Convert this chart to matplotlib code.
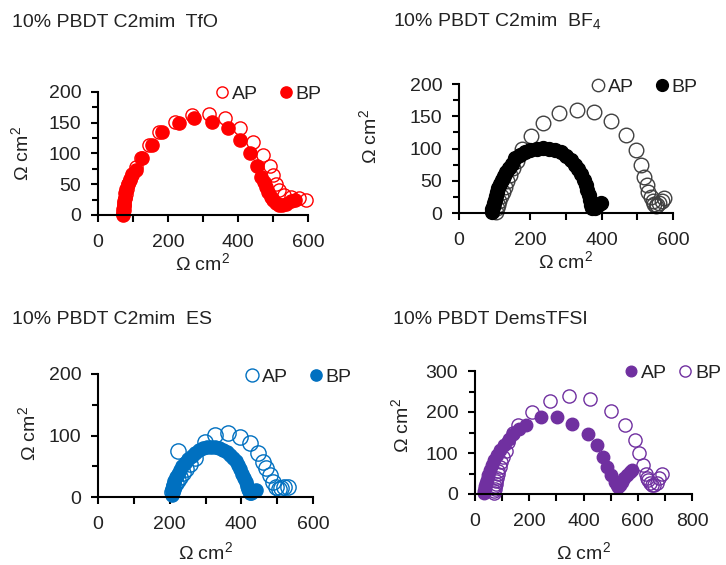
import matplotlib
matplotlib.use('Agg')
import matplotlib.pyplot as plt
from matplotlib.ticker import MultipleLocator

plt.rcParams['font.family'] = ['Liberation Sans', 'DejaVu Sans']
plt.rcParams['mathtext.fontset'] = 'custom'
plt.rcParams['mathtext.rm'] = 'Liberation Sans'

W, H = 726, 565

# ---- data (Z' vs Z'', ohm cm2) ----
tfo_ap_x = [72, 73, 74, 75, 77, 79, 82, 86, 91, 98, 108, 122, 145, 173, 219, 268, 318, 362, 405, 442,
            471, 490, 499, 509, 518, 532, 551, 575, 594]
tfo_ap_y = [2, 8, 14, 20, 27, 34, 42, 50, 58, 67, 78, 92, 114, 135, 152, 163, 165, 157, 141, 119,
            98, 79, 65, 51, 41, 33, 30, 27, 24]
tfo_bp_x = [70, 71, 72, 73, 74, 76, 78, 81, 85, 90, 97, 108, 126, 155, 183, 230, 275, 325, 372, 405,
            433, 454, 466, 473, 480, 487, 494, 501, 509, 518, 527, 538, 551, 562]
tfo_bp_y = [0, 5, 10, 16, 22, 28, 35, 42, 50, 57, 65, 73, 92, 114, 135, 149, 157, 152, 141, 122,
            100, 79, 62, 54, 46, 38, 30, 24, 19, 16, 16, 18, 22, 25]

bf4_ap_x = [105, 107, 110, 113, 117, 122, 128, 135, 143, 152, 163, 177, 203, 235, 280, 331, 378, 425,
            468, 496, 510, 519, 526, 531, 538, 544, 548, 552, 556, 562, 568, 575]
bf4_ap_y = [2, 7, 13, 19, 26, 33, 41, 50, 59, 69, 80, 100, 119, 139, 155, 160, 157, 142,
            121, 98, 74, 56, 43, 33, 25, 19, 14, 11, 12, 15, 19, 23]
bf4_bp_x = [92, 93, 95, 97, 100, 103, 106, 110, 115, 120, 126, 132, 139, 148, 158, 170, 186, 200, 219,
            236, 252, 268, 285, 300, 313, 324, 334, 343, 350, 356, 360, 364, 367, 371, 374, 380, 390, 397]
bf4_bp_y = [2, 6, 10, 15, 20, 26, 33, 39, 45, 51, 57, 63, 69, 76, 85, 90, 95, 98, 100,
            101, 100, 98, 95, 89, 82, 75, 68, 60, 51, 44, 36, 28, 20, 12, 7, 8, 12, 15]

es_ap_x = [224, 207, 210, 213, 217, 222, 228, 236, 246, 258, 272, 298, 326, 363, 395, 423, 446, 460,
           469, 479, 488, 497, 504, 511, 520, 530]
es_ap_y = [75, 8, 13, 18, 23, 28, 33, 39, 46, 54, 63, 90, 101, 104, 98, 87, 71, 57,
           47, 36, 25, 17, 13, 15, 16, 17]
es_bp_x = [206, 207, 208, 210, 213, 217, 222, 228, 235, 243, 252, 262, 272, 283, 294, 305, 316, 327,
           338, 349, 359, 368, 376, 384, 391, 397, 403, 408, 412, 415, 418, 421, 424, 428, 434, 442]
es_bp_y = [4, 9, 14, 20, 26, 32, 38, 44, 50, 56, 62, 67, 72, 76, 79, 81, 82, 81,
           80, 77, 73, 69, 64, 58, 52, 45, 38, 31, 24, 18, 13, 9, 7, 7, 9, 11]

tfsi_ap_x = [33, 34, 36, 38, 41, 45, 49, 55, 62, 71, 82, 94, 108, 124, 141, 163, 187, 243, 301, 356,
             418, 451, 471, 486, 501, 516, 524, 529, 535, 541, 550, 559, 571, 578]
tfsi_ap_y = [2, 8, 14, 20, 26, 33, 46, 58, 71, 83, 95, 108, 120, 133, 146, 158, 168, 189, 189, 170,
             146, 120, 91, 67, 46, 30, 23, 18, 22, 30, 38, 46, 54, 58]
tfsi_bp_x = [70, 71, 72, 74, 76, 78, 80, 83, 86, 91, 97, 104, 113, 123, 140, 160, 209, 276, 347, 424,
             501, 553, 590, 605, 620, 629, 635, 639, 644, 651, 660, 670, 680, 688]
tfsi_bp_y = [2, 7, 13, 19, 25, 32, 40, 48, 57, 66, 78, 90, 105, 128, 148, 168, 201, 227, 240, 231,
             202, 168, 132, 99, 71, 50, 40, 34, 28, 22, 22, 26, 38, 50]

titles = ['10% PBDT C2mim  TfO', '10% PBDT C2mim  BF$_4$', '10% PBDT C2mim  ES', '10% PBDT DemsTFSI']
unit = 'Ω cm$^2$'
FS = 14


def px_rect(l, r, t, b):
    return [l / W, 1 - b / H, (r - l) / W, (b - t) / H]


def style_axes(ax, xmax, ymax, ymaj, ymin):
    ax.set_xlim(0, xmax)
    ax.set_ylim(0, ymax)
    for s in ['top', 'right']:
        ax.spines[s].set_visible(False)
    for s in ['left', 'bottom']:
        ax.spines[s].set_linewidth(1.5)
        ax.spines[s].set_color('black')
    ax.xaxis.set_major_locator(MultipleLocator(200))
    ax.xaxis.set_minor_locator(MultipleLocator(100))
    ax.yaxis.set_major_locator(MultipleLocator(ymaj))
    ax.yaxis.set_minor_locator(MultipleLocator(ymin))
    ax.tick_params(which='both', direction='out', width=1.5, length=5, labelsize=FS,
                   colors='black', labelcolor='#222222')
    ax.tick_params(axis='x', which='both', pad=9)
    ax.tick_params(axis='y', which='both', pad=7)
    ax.tick_params(axis='y', which='minor', length=4)
    ax.set_xlabel(unit, fontsize=FS, labelpad=1, color='#222222')
    ax.patch.set_alpha(0)


def legend(ax, left_px, y_px, colsp=1.08):
    ax.legend(loc='center left', bbox_to_anchor=(left_px / W, 1 - y_px / H),
              bbox_transform=fig.transFigure, ncol=2, frameon=False, fontsize=FS,
              handlelength=0.7, handletextpad=0.17, columnspacing=colsp, borderpad=0,
              borderaxespad=0, markerscale=0.85, labelcolor='#222222')


fig = plt.figure(figsize=(W / 100, H / 100), dpi=100)

# panel 1: TfO
ax1 = fig.add_axes(px_rect(98, 308, 92, 215))
red = '#FF0000'
ax1.plot(tfo_ap_x, tfo_ap_y, 'o', ms=9.5, mfc='none', mec=red, mew=1.0, label='AP', clip_on=False)
ax1.plot(tfo_bp_x, tfo_bp_y, 'o', ms=9.5, mfc=red, mec=red, label='BP', clip_on=False)
style_axes(ax1, 600, 200, 50, 25)
ax1.set_ylabel(unit, fontsize=FS, color='#222222')
ax1.yaxis.set_label_coords(-0.31, 0.5)
legend(ax1, 215, 94)

# panel 2: BF4
ax2 = fig.add_axes(px_rect(459, 673, 84, 213))
ax2.plot(bf4_ap_x, bf4_ap_y, 'o', ms=10.5, mfc='none', mec='#404040', mew=1.0, label='AP', clip_on=False)
ax2.plot(bf4_bp_x, bf4_bp_y, 'o', ms=10, mfc='black', mec='black', label='BP', clip_on=False)
style_axes(ax2, 600, 200, 50, 25)
ax2.set_ylabel(unit, fontsize=FS, color='#222222')
ax2.yaxis.set_label_coords(-0.365, 0.59)
legend(ax2, 591, 87)

# panel 3: ES
ax3 = fig.add_axes(px_rect(98, 313, 374, 497))
blue = '#0070C0'
ax3.plot(es_ap_x, es_ap_y, 'o', ms=11, mfc='none', mec=blue, mew=1.0, label='AP', clip_on=False)
ax3.plot(es_bp_x, es_bp_y, 'o', ms=9.5, mfc=blue, mec=blue, label='BP', clip_on=False)
style_axes(ax3, 600, 200, 100, 50)
ax3.set_ylabel(unit, fontsize=FS, color='#222222')
ax3.yaxis.set_label_coords(-0.27, 0.52)
ax3.xaxis.labelpad = 6
legend(ax3, 245, 377)

# panel 4: DemsTFSI
ax4 = fig.add_axes(px_rect(475, 692, 371, 494))
purple = '#7030A0'
ax4.plot(tfsi_ap_x, tfsi_ap_y, 'o', ms=9, mfc=purple, mec=purple, label='AP', clip_on=False)
ax4.plot(tfsi_bp_x, tfsi_bp_y, 'o', ms=9.5, mfc='none', mec=purple, mew=1.0, label='BP', clip_on=False)
style_axes(ax4, 800, 300, 100, 50)
ax4.set_ylabel(unit, fontsize=FS, color='#222222')
ax4.yaxis.set_label_coords(-0.285, 0.56)
ax4.xaxis.labelpad = 8
legend(ax4, 624, 373, colsp=0.6)

# panel titles
for t, (x, y) in zip(titles, [(12, 27), (393, 27), (12, 324), (393, 324)]):
    fig.text(x / W, 1 - y / H, t, fontsize=14, va='baseline', ha='left', color='#222222')

fig.savefig('out.png', dpi=100)
